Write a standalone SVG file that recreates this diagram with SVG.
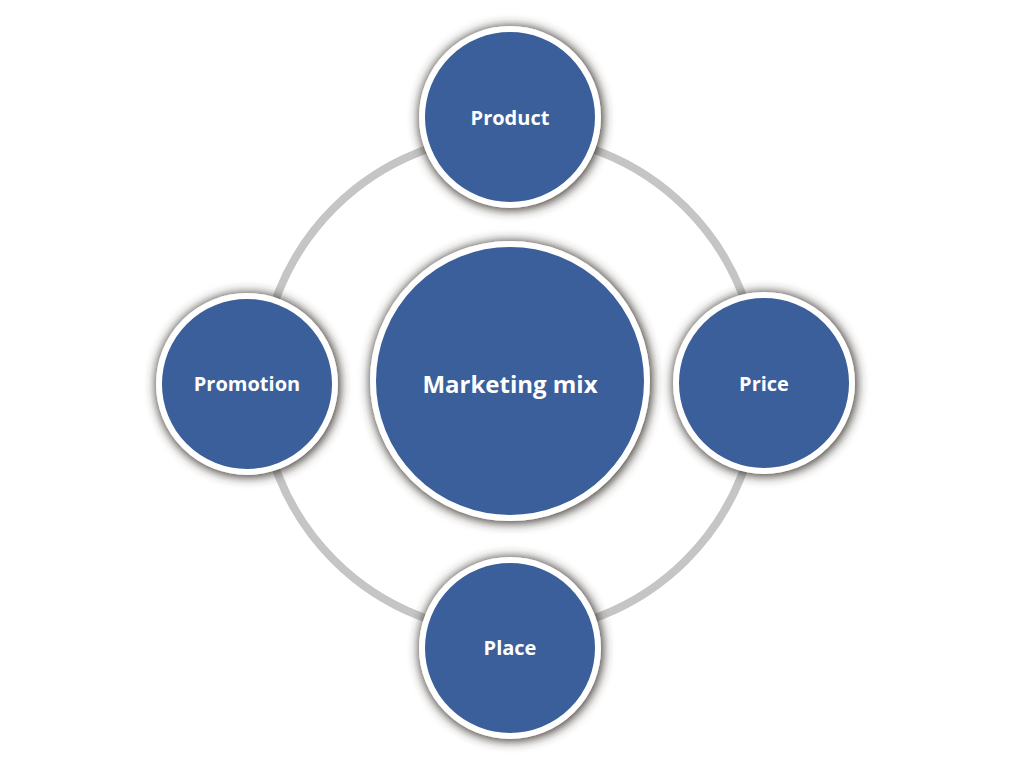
<svg xmlns="http://www.w3.org/2000/svg" width="1024" height="768" viewBox="0 0 1024 768">
  <defs>
    <filter id="halo" x="-30%" y="-30%" width="160%" height="160%">
      <feMorphology in="SourceAlpha" operator="dilate" radius="1" result="grown"/>
      <feGaussianBlur in="grown" stdDeviation="5.5" result="blur"/>
      <feOffset in="blur" dx="1" dy="1" result="off"/>
      <feFlood flood-color="#39322d" flood-opacity="1"/>
      <feComposite in2="off" operator="in" result="shadow"/>
      <feMerge>
        <feMergeNode in="shadow"/>
        <feMergeNode in="SourceGraphic"/>
      </feMerge>
    </filter>
  </defs>
  <style>
    .node circle { fill: #3a5e9a; stroke: #ffffff; stroke-width: 6; }
    .label { fill: #ffffff; font-family: "Open Sans", "Liberation Sans", sans-serif; font-weight: bold; text-anchor: middle; }
    .ring { fill: none; stroke: #c5c5c5; stroke-width: 8; }
  </style>
  <rect width="1024" height="768" fill="#ffffff"/>
  <g id="connectors">
    <circle class="ring" cx="510" cy="384" r="249"/>
  </g>
  <g id="node-marketing-mix" class="node">
    <circle cx="510" cy="381" r="137" filter="url(#halo)"/>
    <text class="label" x="510" y="393" font-size="24">Marketing mix</text>
  </g>
  <g id="node-product" class="node">
    <circle cx="510" cy="117" r="88" filter="url(#halo)"/>
    <text class="label" x="510" y="125" font-size="20">Product</text>
  </g>
  <g id="node-promotion" class="node">
    <circle cx="247" cy="384" r="88" filter="url(#halo)"/>
    <text class="label" x="247" y="391" font-size="20">Promotion</text>
  </g>
  <g id="node-price" class="node">
    <circle cx="764" cy="383" r="88" filter="url(#halo)"/>
    <text class="label" x="764" y="391" font-size="20">Price</text>
  </g>
  <g id="node-place" class="node">
    <circle cx="510" cy="648" r="88" filter="url(#halo)"/>
    <text class="label" x="510" y="655" font-size="20">Place</text>
  </g>
</svg>
